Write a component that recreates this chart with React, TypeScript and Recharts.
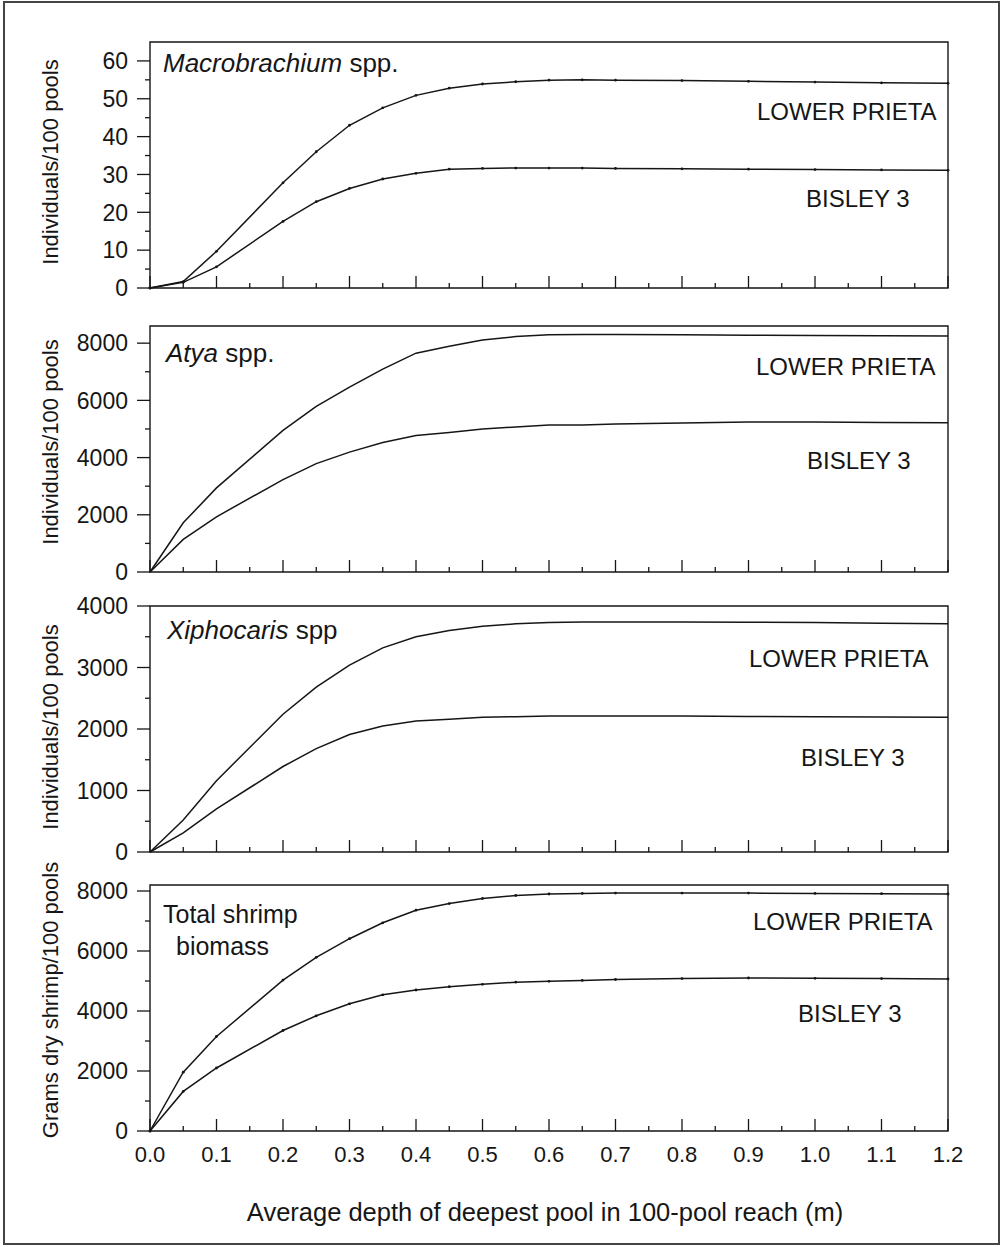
import React from 'react';
import { LineChart, Line, XAxis, YAxis, ReferenceArea } from 'recharts';

// depth of deepest pool (m) at which each curve was evaluated
const depth = [0, 0.05, 0.1, 0.2, 0.25, 0.3, 0.35, 0.4, 0.45, 0.5, 0.55, 0.6, 0.65, 0.7, 0.8, 0.9, 1.0, 1.1, 1.2];

const macroLower = [0, 1.7, 9.7, 27.8, 36, 43, 47.6, 50.9, 52.8, 53.9, 54.5, 54.9, 55, 54.9, 54.8, 54.6, 54.4, 54.2, 54.1];
const macroBisley = [0, 1.5, 5.6, 17.6, 22.8, 26.3, 28.8, 30.3, 31.4, 31.6, 31.7, 31.7, 31.7, 31.6, 31.5, 31.4, 31.3, 31.2, 31.1];

const atyaLower = [0, 1720, 2940, 4950, 5790, 6460, 7090, 7650, 7890, 8110, 8230, 8290, 8300, 8300, 8290, 8280, 8270, 8260, 8250];
const atyaBisley = [0, 1140, 1930, 3230, 3790, 4190, 4530, 4770, 4880, 5000, 5070, 5140, 5140, 5170, 5210, 5240, 5240, 5230, 5220];

const xiphoLower = [0, 520, 1160, 2240, 2680, 3040, 3320, 3500, 3600, 3670, 3710, 3730, 3740, 3740, 3740, 3735, 3730, 3720, 3710];
const xiphoBisley = [0, 310, 700, 1390, 1680, 1910, 2050, 2130, 2160, 2190, 2200, 2210, 2210, 2210, 2210, 2205, 2200, 2195, 2190];

const biomassLower = [0, 1960, 3150, 5030, 5790, 6410, 6940, 7360, 7580, 7750, 7850, 7900, 7920, 7930, 7930, 7930, 7920, 7910, 7900];
const biomassBisley = [0, 1320, 2100, 3350, 3840, 4240, 4540, 4700, 4810, 4890, 4960, 4990, 5020, 5050, 5080, 5100, 5090, 5080, 5070];

const xTicks = [0, 0.05, 0.1, 0.15, 0.2, 0.25, 0.3, 0.35, 0.4, 0.45, 0.5, 0.55, 0.6, 0.65, 0.7, 0.75, 0.8, 0.85, 0.9, 0.95, 1.0, 1.05, 1.1, 1.15, 1.2];
const macroTicks = [0, 5, 10, 15, 20, 25, 30, 35, 40, 45, 50, 55, 60];
const atyaTicks = [0, 1000, 2000, 3000, 4000, 5000, 6000, 7000, 8000];
const xiphoTicks = [0, 500, 1000, 1500, 2000, 2500, 3000, 3500, 4000];
const biomassTicks = [0, 1000, 2000, 3000, 4000, 5000, 6000, 7000, 8000];

const FONT = '"Liberation Sans", Arial, Helvetica, sans-serif';
const INK = '#161616';

const toRows = (lower: number[], bisley: number[]) =>
  depth.map((d, i) => ({ depth: d, lower: lower[i], bisley: bisley[i] }));

const XTick = (props: any) => {
  const { x, y, payload, showLabel } = props;
  const v = payload.value;
  const major = Math.abs(v * 10 - Math.round(v * 10)) < 1e-6;
  return (
    <g>
      <line x1={x} x2={x} y1={y} y2={y - (major ? 12 : 5)} stroke={INK} strokeWidth={1.3} />
      {showLabel && major && (
        <text x={x} y={y + 31} textAnchor="middle" fontSize={22} fontFamily={FONT} fill={INK}>
          {v.toFixed(1)}
        </text>
      )}
    </g>
  );
};

const YTick = (props: any) => {
  const { x, y, payload, majorStep } = props;
  const v = payload.value;
  const major = v % majorStep === 0;
  return (
    <g>
      <line x1={x} x2={x - (major ? 13 : 5)} y1={y} y2={y} stroke={INK} strokeWidth={1.3} />
      {major && (
        <text x={x - 22} y={y} dy="0.36em" textAnchor="end" fontSize={23} fontFamily={FONT} fill={INK}>
          {v}
        </text>
      )}
    </g>
  );
};

interface PanelProps {
  top: number;
  rows: { depth: number; lower: number; bisley: number }[];
  yMax: number;
  yTicks: number[];
  majorStep: number;
  showXLabels?: boolean;
  dots?: boolean;
}

const PLOT_H = 246;
const PAD_TOP = 20;

const Panel: React.FC<PanelProps> = ({ top, rows, yMax, yTicks, majorStep, showXLabels, dots }) => {
  const dot = dots ? { r: 1.4, fill: INK, stroke: 'none' } : false;
  return (
    <div style={{ position: 'absolute', left: 0, top: top - PAD_TOP }}>
      <LineChart width={1007} height={PLOT_H + PAD_TOP + 40} data={rows} margin={{ top: PAD_TOP, right: 59, bottom: 0, left: 80 }}>
        <XAxis
          type="number"
          dataKey="depth"
          domain={[0, 1.2]}
          ticks={xTicks}
          interval={0}
          height={40}
          axisLine={false}
          tickLine={false}
          tickSize={0}
          tickMargin={0}
          tick={<XTick showLabel={showXLabels} />}
        />
        <YAxis
          type="number"
          domain={[0, yMax]}
          ticks={yTicks}
          interval={0}
          width={70}
          axisLine={false}
          tickLine={false}
          tickSize={0}
          tickMargin={0}
          tick={<YTick majorStep={majorStep} />}
        />
        <ReferenceArea x1={0} x2={1.2} y1={0} y2={yMax} fill="none" stroke={INK} strokeWidth={1.4} ifOverflow="visible" />
        <Line type="linear" dataKey="lower" stroke={INK} strokeWidth={1.5} dot={dot} isAnimationActive={false} />
        <Line type="linear" dataKey="bisley" stroke={INK} strokeWidth={1.5} dot={dot} isAnimationActive={false} />
      </LineChart>
    </div>
  );
};

export default function App() {
  const t = { fontFamily: FONT, fill: INK };
  return (
    <div style={{ position: 'absolute', left: 0, top: 0, width: 1007, height: 1247, background: '#fff' }}>
      <Panel top={42} rows={toRows(macroLower, macroBisley)} yMax={65} yTicks={macroTicks} majorStep={10} dots />
      <Panel top={326} rows={toRows(atyaLower, atyaBisley)} yMax={8600} yTicks={atyaTicks} majorStep={2000} />
      <Panel top={606} rows={toRows(xiphoLower, xiphoBisley)} yMax={4000} yTicks={xiphoTicks} majorStep={1000} />
      <Panel top={885} rows={toRows(biomassLower, biomassBisley)} yMax={8200} yTicks={biomassTicks} majorStep={2000} showXLabels dots />

      <svg width={1007} height={1247} style={{ position: 'absolute', left: 0, top: 0, pointerEvents: 'none' }}>
        <rect x={4} y={2} width={995} height={1242} fill="none" stroke="#444" strokeWidth={2} />

        {/* y axis titles */}
        <text {...t} fontSize={22} textAnchor="middle" transform="translate(58,162) rotate(-90)">Individuals/100 pools</text>
        <text {...t} fontSize={22} textAnchor="middle" transform="translate(58,442) rotate(-90)">Individuals/100 pools</text>
        <text {...t} fontSize={22} textAnchor="middle" transform="translate(58,727) rotate(-90)">Individuals/100 pools</text>
        <text {...t} fontSize={22} textAnchor="middle" transform="translate(58,1000) rotate(-90)">Grams dry shrimp/100 pools</text>

        {/* panel titles */}
        <text {...t} fontSize={26} x={163} y={72}><tspan fontStyle="italic">Macrobrachium</tspan> spp.</text>
        <text {...t} fontSize={26} x={166} y={362}><tspan fontStyle="italic">Atya</tspan> spp.</text>
        <text {...t} fontSize={26} x={167} y={639}><tspan fontStyle="italic">Xiphocaris</tspan> spp</text>
        <text {...t} fontSize={25} x={163} y={923}>Total shrimp</text>
        <text {...t} fontSize={25} x={176} y={955}>biomass</text>

        {/* series labels */}
        <text {...t} fontSize={24} x={757} y={120}>LOWER PRIETA</text>
        <text {...t} fontSize={24} x={806} y={207}>BISLEY 3</text>
        <text {...t} fontSize={24} x={756} y={375}>LOWER PRIETA</text>
        <text {...t} fontSize={24} x={807} y={469}>BISLEY 3</text>
        <text {...t} fontSize={24} x={749} y={667}>LOWER PRIETA</text>
        <text {...t} fontSize={24} x={801} y={766}>BISLEY 3</text>
        <text {...t} fontSize={24} x={753} y={930}>LOWER PRIETA</text>
        <text {...t} fontSize={24} x={798} y={1022}>BISLEY 3</text>

        <text {...t} fontSize={25.5} x={545} y={1221} textAnchor="middle">Average depth of deepest pool in 100-pool reach (m)</text>
      </svg>
    </div>
  );
}
